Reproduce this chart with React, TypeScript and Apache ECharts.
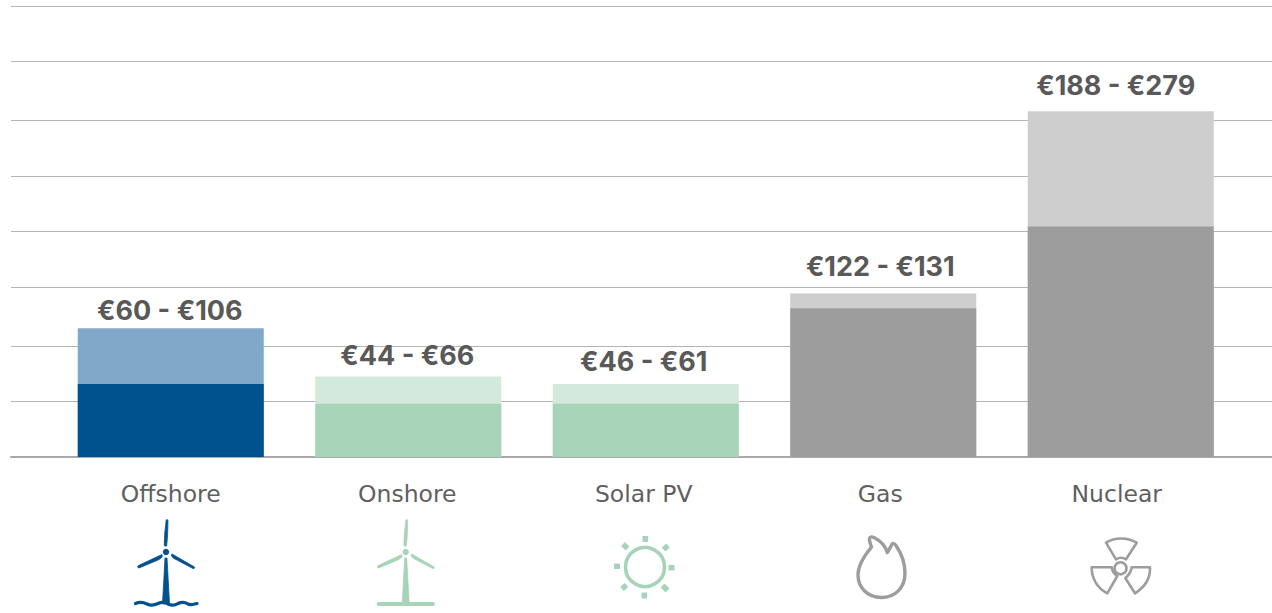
import React, { useEffect, useRef } from "react";
import * as echarts from "echarts";

const categories = ["Offshore", "Onshore", "Solar PV", "Gas", "Nuclear"];
const lowValues = [59, 43, 43, 120, 186];
const highValues = [104, 65, 59, 132, 279];
const rangeLabels = ["€60 - €106", "€44 - €66", "€46 - €61", "€122 - €131", "€188 - €279"];
const gridValues = [0, 45, 89.5, 137, 182, 226.5, 272, 319.5, 364];
const AXIS_MAX = 364;

const lowColors = ["#00528f", "#a7d4b8", "#a7d4b8", "#9d9d9d", "#9d9d9d"];
const highColors = ["#81a8c9", "#d3e9db", "#d3e9db", "#cecece", "#cecece"];
const labelOffsets = [[-1, 2], [-1, -1], [-2, -3], [-3, -7], [-5, -6]];
const categoryShift = [0, 1, 2, 3, 4];

const FONT = "Inter, 'Noto Sans', sans-serif";
const AXIS_FONT = "'DejaVu Sans', sans-serif";
const BLUE = "#00528f";
const GREEN = "#a7d4b8";
const GREY = "#9d9d9d";

const bladeUp = (hx: number) => `M${hx - 1.6} 546 C${hx - 2} 538 ${hx - 0.5} 526 ${hx + 0.2} 520 C${hx + 1.2} 519 ${hx + 2} 520 ${hx + 2} 521 C${hx + 1.8} 530 ${hx + 1.5} 540 ${hx + 0.6} 546 Z`;
const bladeL = (hx: number) => `M${hx - 4} 554.5 L${hx - 27.5} 565.5 C${hx - 29} 566.5 ${hx - 28} 568 ${hx - 27} 568 L${hx - 8} 560 C${hx - 5} 558.5 ${hx - 3} 557 ${hx - 4} 554.5 Z`;
const bladeR = (hx: number) => `M${hx + 6} 554 L${hx + 28.5} 567 C${hx + 29} 568 ${hx + 28} 569 ${hx + 27} 568.5 L${hx + 9} 559 C${hx + 6} 557.5 ${hx + 4.5} 555 ${hx + 6} 554 Z`;
const tower = (hx: number) => `M${hx - 1} 558 L${hx + 1} 558 L${hx + 3.5} 604 L${hx - 3.5} 604 Z`;

echarts.graphic.registerShape("turbineOff", echarts.graphic.extendPath(bladeUp(166) + bladeL(166) + bladeR(166) + tower(166), {}));
echarts.graphic.registerShape("turbineOn", echarts.graphic.extendPath(bladeUp(405.7) + bladeL(405.7) + bladeR(405.7) + tower(405.7), {}));
echarts.graphic.registerShape("waves", echarts.graphic.extendPath("M135.5 603.5 C140 601.5 143 602 147 604 C151 606 154 605.5 158 603.5 C162 601.5 165 602 168 604 C172 606 175 605.5 178 603.5 C182 601.5 185 602 188 604 C191 605.5 194 604 197 603.5", {}));
echarts.graphic.registerShape("flame", echarts.graphic.extendPath("M869.5 538.5 C870 536.5 872 536.5 874 537.5 C880 540.5 885 545 887.3 552.5 C889 550 891 546 892.5 543.5 C894 543 895 544 896 545.5 C901 553 905 564 905 573 C905 588 895 597.5 881.5 597.5 C867 597.5 858 587 858 575 C858 566 864 556 871.5 547 C870.5 544 869 541 869.5 538.5 Z", {}));
echarts.graphic.registerShape("trefoil", echarts.graphic.extendPath("M1106 542.7 C1115 537 1127 537 1136.7 542.7 L1126 559.3 C1123 557.5 1119 557.5 1116 559.3 Z M1091.7 567.3 L1111.7 567.3 C1112 571 1114.5 574 1117.3 576 L1107.3 593.3 C1097 588 1091.5 578 1091.7 567.3 Z M1150 567.3 L1131.7 567.3 C1131 572 1128.5 575.5 1125.3 578 L1135 593.3 C1145 587 1150.5 578 1150 567.3 Z", {}));

const sunCx = 645;
const sunCy = 567;
const sunRays = [[645.3, 536, 645.3, 542], [674.5, 567.7, 668.5, 567.7], [644.3, 598.5, 644.3, 592.5], [614, 566.3, 620, 566.3], [668, 545.5, 663.5, 549.5], [623, 544, 627.5, 548.5], [622, 589, 626.5, 585], [667.5, 590.5, 662.5, 585.5]];

const icons: any[] = [
  { type: "turbineOff", style: { fill: BLUE, stroke: BLUE, lineWidth: 0.8 } },
  { type: "circle", shape: { cx: 166, cy: 552, r: 3.2 }, style: { fill: BLUE } },
  { type: "waves", style: { fill: "none", stroke: BLUE, lineWidth: 3.2, lineCap: "round" } },
  { type: "turbineOn", style: { fill: GREEN, stroke: GREEN, lineWidth: 0.8 } },
  { type: "circle", shape: { cx: 405.7, cy: 552, r: 3.2 }, style: { fill: GREEN } },
  { type: "line", shape: { x1: 378.5, y1: 604, x2: 433, y2: 604 }, style: { stroke: GREEN, lineWidth: 3.8, lineCap: "round" } },
  { type: "circle", shape: { cx: sunCx, cy: sunCy, r: 19.5 }, style: { fill: "none", stroke: GREEN, lineWidth: 3.6 } },
  ...sunRays.map(([x1, y1, x2, y2]) => ({ type: "line", shape: { x1, y1, x2, y2 }, style: { stroke: GREEN, lineWidth: 5.5 } })),
  { type: "flame", style: { fill: "none", stroke: GREY, lineWidth: 3.4, lineJoin: "round" } },
  { type: "trefoil", style: { fill: "none", stroke: GREY, lineWidth: 2.6, lineJoin: "round" } },
  { type: "circle", shape: { cx: 1120.5, cy: 568.3, r: 6 }, style: { fill: "none", stroke: GREY, lineWidth: 2.6 } },
];

const richCategories: any = {};
categoryShift.forEach((s, i) => {
  richCategories["c" + i] = { color: "#5f5f5f", fontFamily: AXIS_FONT, fontSize: 23.5, padding: [0, s * 2, 0, 0] };
});

export default function App() {
  const ref = useRef<HTMLDivElement>(null);
  useEffect(() => {
    document.body.style.margin = "0";
    const chart = echarts.init(ref.current!, undefined, { renderer: "svg" });
    chart.setOption({
      animation: false,
      backgroundColor: "#fff",
      grid: [
        { left: 11, top: 6, width: 1261, height: 451 },
        { left: 52, top: 6, width: 1187.5, height: 451 },
      ],
      xAxis: [
        { type: "category", gridIndex: 0, data: [""], axisLine: { show: true, lineStyle: { color: "#a9a9a9", width: 2 } }, axisTick: { show: false }, axisLabel: { show: false }, splitLine: { show: false } },
        {
          type: "category", gridIndex: 1, data: categories,
          axisLine: { show: false }, axisTick: { show: false },
          axisLabel: {
            margin: 25, interval: 0,
            formatter: (v: string) => `{c${categories.indexOf(v)}|${v}}`,
            rich: richCategories,
          },
        },
      ],
      yAxis: [
        {
          type: "value", gridIndex: 0, min: 0, max: AXIS_MAX,
          axisLine: { show: false }, axisLabel: { show: false },
          axisTick: { show: false, customValues: gridValues },
          splitLine: { show: true, lineStyle: { color: "#b4b4b4", width: 1 } },
        },
        {
          type: "value", gridIndex: 1, min: 0, max: AXIS_MAX,
          axisLine: { show: false }, axisLabel: { show: false }, axisTick: { show: false }, splitLine: { show: false },
        },
      ],
      series: [
        {
          type: "bar", xAxisIndex: 1, yAxisIndex: 1, barWidth: 186, barGap: "-100%", z: 3,
          data: highValues.map((value, i) => ({
            value,
            itemStyle: { color: highColors[i] },
            label: {
              show: true, position: "top", distance: 6,
              formatter: rangeLabels[i], offset: labelOffsets[i],
              color: "#595959", fontFamily: FONT, fontWeight: 700, fontSize: 27,
            },
          })),
        },
        {
          type: "bar", xAxisIndex: 1, yAxisIndex: 1, barWidth: 186, barGap: "-100%", z: 4,
          data: lowValues.map((value, i) => ({ value, itemStyle: { color: lowColors[i] } })),
        },
      ],
      graphic: icons,
    });
    return () => chart.dispose();
  }, []);
  return <div ref={ref} style={{ width: 1272, height: 613 }} />;
}
